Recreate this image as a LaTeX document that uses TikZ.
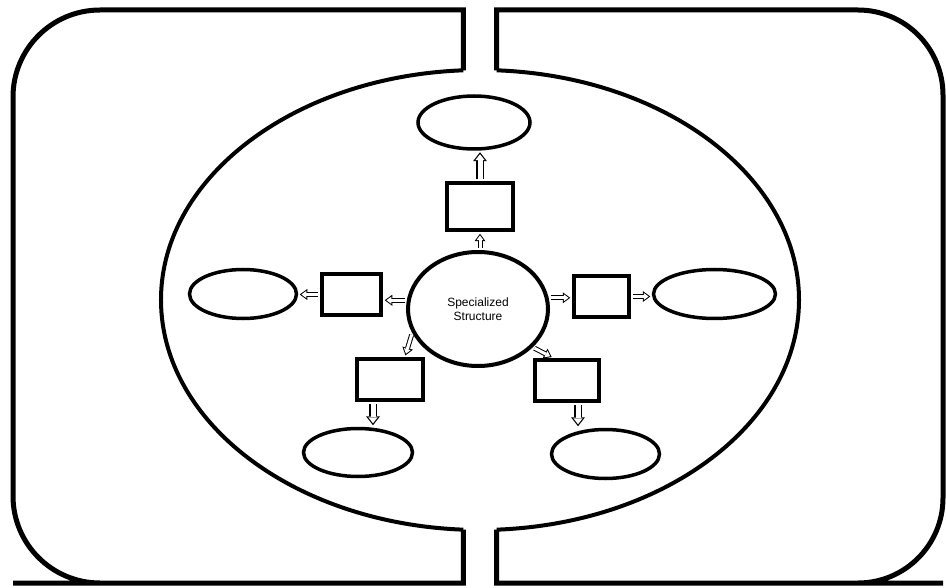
\documentclass[tikz,border=0pt]{standalone}
\usepackage{fontspec}
\setmainfont{Liberation Sans}
\usetikzlibrary{shapes.geometric,arrows.meta}
\begin{document}
\begin{tikzpicture}[x=1pt,y=-1pt,
 wall/.style={line width=5pt},
 membrane/.style={line width=4pt},
 hub/.style={ellipse, draw, line width=4pt, minimum width=140pt, minimum height=114pt, inner sep=0pt, align=center, font=\fontsize{12}{13.5}\selectfont},
 stepbox/.style={rectangle, draw, line width=4.5pt, inner sep=0pt},
 leaf/.style={ellipse, draw, line width=3.5pt, inner sep=0pt},
 arr/.style={line width=5pt, shorten <=2pt, shorten >=1.5pt,
   -{Triangle[length=7.5pt, width=11pt, line width=0pt]},
   postaction={draw=white, line width=3pt, shorten >=3.2pt,
   -{Triangle[length=4.8pt, width=7.1pt, line width=0pt]}}},
 bigarr/.style={line width=7.5pt, shorten <=2pt, shorten >=1.5pt,
   -{Triangle[length=9pt, width=14pt, line width=0pt]},
   postaction={draw=white, line width=5pt, shorten >=3.5pt,
   -{Triangle[length=5.8pt, width=9.1pt, line width=0pt]}}}
]
\useasboundingbox (0,0) rectangle (946,588);
% cell walls
\draw[wall] (463.3,70.3) -- (463.3,10) -- (100,10) [rounded corners=87pt] -- (13,10) -- (13,583) -- (100,583) [sharp corners] -- (463.3,583) -- (463.3,529.7);
\draw[wall] (496.7,70.3) -- (496.7,10) -- (858,10) [rounded corners=85pt] -- (943,10) -- (943,583) -- (858,583) [sharp corners] -- (496.7,583) -- (496.7,529.7);
% membrane
\draw[membrane] (463.3,70.3) arc[start angle=93, end angle=267, x radius=319pt, y radius=230pt];
\draw[membrane] (496.7,70.3) arc[start angle=87, end angle=-87, x radius=319pt, y radius=230pt];
% nodes
\node[hub] (c) at (478,309) {Specialized\\Structure};
\node[stepbox, minimum width=66pt, minimum height=47pt] (tb) at (480,206.5) {};
\node[leaf, minimum width=112pt, minimum height=53pt] (te) at (474,122.5) {};
\node[stepbox, minimum width=59pt, minimum height=41pt] (lb) at (351.5,294.5) {};
\node[leaf, minimum width=107pt, minimum height=49pt] (le) at (243,294) {};
\node[stepbox, minimum width=55pt, minimum height=41pt] (rb) at (601.5,296.5) {};
\node[leaf, minimum width=122pt, minimum height=49pt] (re) at (714.5,294) {};
\node[stepbox, minimum width=66pt, minimum height=41pt] (llb) at (390,379.5) {};
\node[leaf, minimum width=109pt, minimum height=48pt] (lle) at (358,452.5) {};
\node[stepbox, minimum width=64pt, minimum height=41pt] (lrb) at (567,380.5) {};
\node[leaf, minimum width=108pt, minimum height=49pt] (lre) at (605.5,454) {};
% arrows
\draw[arr] (c.north -| tb.south) -- (tb.south);
\draw[bigarr] (tb.north) -- (tb.north |- te.south);
\draw[arr] (c.173.4) -- (lb.east |- c.173.4);
\draw[arr] (lb.west) -- (le.east |- lb.west);
\draw[arr] (c.9) -- (rb.west |- c.9);
\draw[arr] (rb.east) -- (re.west |- rb.east);
\draw[arr] (c.200) -- ([xshift=15pt]llb.north);
\draw[bigarr] ([xshift=-17pt]llb.south) -- ([xshift=-17pt]llb.south |- lle.north);
\draw[arr] (c.-35) -- ([xshift=-14pt]lrb.north);
\draw[bigarr] ([xshift=11pt]lrb.south) -- ([xshift=11pt]lrb.south |- lre.north);
\end{tikzpicture}
\end{document}
